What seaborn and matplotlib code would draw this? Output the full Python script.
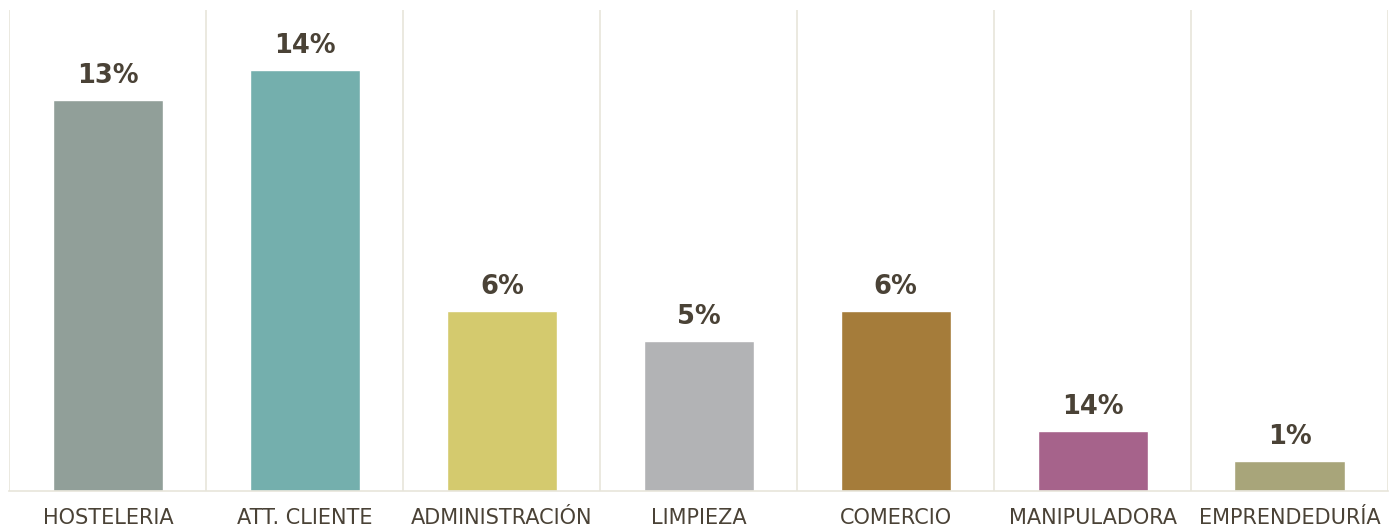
import matplotlib
matplotlib.use("Agg")
import matplotlib.pyplot as plt
import pandas as pd
import seaborn as sns

categories = ["HOSTELERIA", "ATT. CLIENTE", "ADMINISTRACIÓN", "LIMPIEZA",
              "COMERCIO", "MANIPULADORA", "EMPRENDEDURÍA"]
values = [13, 14, 6, 5, 6, 2, 1]
labels = ["13%", "14%", "6%", "5%", "6%", "14%", "1%"]
colors = ["#919f99", "#74afad", "#d4ca6e", "#b2b3b5", "#a57c3a", "#a6638b", "#a8a57a"]

TEXT = "#4a4236"
GRID = "#e7e5da"

df = pd.DataFrame({"cat": categories, "val": values})

sns.set_theme(style="white")
plt.rcParams["font.family"] = ["DejaVu Sans"]

fig = plt.figure(figsize=(13.97, 5.32), dpi=100)
ax = fig.add_axes([0.0068, 0.0771, 0.9868, 0.904])

sns.barplot(data=df, x="cat", y="val", hue="cat", palette=colors,
            width=0.56, legend=False, ax=ax, saturation=1)

# column separators
for b in range(len(categories) + 1):
    ax.axvline(b - 0.5, color=GRID, linewidth=1.2, zorder=0)

for bars, lab in zip(ax.containers, labels):
    ax.bar_label(bars, labels=[lab], padding=8, fontsize=18.5,
                 fontweight="bold", color=TEXT)

ax.set_xlim(-0.5, len(categories) - 0.5)
ax.set_ylim(0, 16)
ax.set_yticks([])
ax.set_xlabel("")
ax.set_ylabel("")
ax.tick_params(axis="x", length=0, pad=12, labelsize=15, labelcolor=TEXT)
for s in ["top", "left", "right"]:
    ax.spines[s].set_visible(False)
ax.spines["bottom"].set_color(GRID)
ax.spines["bottom"].set_linewidth(1.2)

fig.savefig("out.png", dpi=100)
